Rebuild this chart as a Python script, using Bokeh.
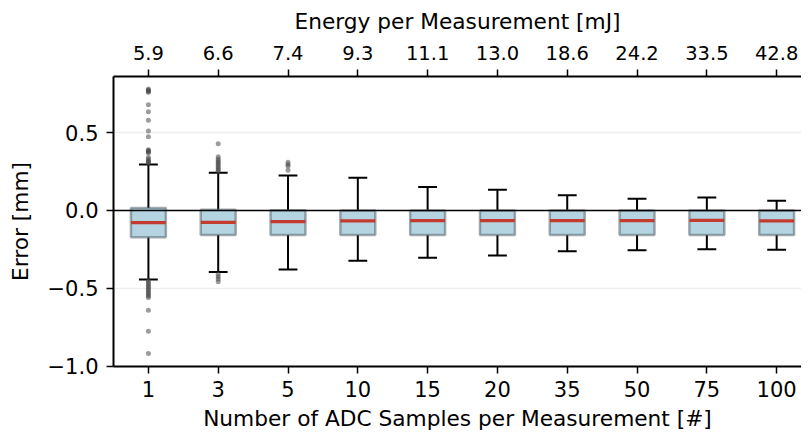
from bokeh.plotting import figure
from bokeh.models import (Range1d, LinearAxis, FixedTicker, Span, ColumnDataSource)
from bokeh.embed import file_html
from bokeh.resources import INLINE

# ---- data ----
samples = ["1", "3", "5", "10", "15", "20", "35", "50", "75", "100"]
energy = ["5.9", "6.6", "7.4", "9.3", "11.1", "13.0", "18.6", "24.2", "33.5", "42.8"]
q1 = [-0.173, -0.158, -0.158, -0.158, -0.158, -0.158, -0.158, -0.158, -0.158, -0.158]
q3 = [0.015, 0.004, 0.002, 0.000, 0.000, 0.000, 0.000, 0.000, 0.000, 0.000]
median = [-0.078, -0.076, -0.072, -0.067, -0.065, -0.065, -0.065, -0.065, -0.064, -0.067]
whisker_hi = [0.296, 0.243, 0.224, 0.211, 0.150, 0.133, 0.097, 0.076, 0.084, 0.063]
whisker_lo = [-0.443, -0.396, -0.380, -0.323, -0.304, -0.289, -0.263, -0.255, -0.249, -0.253]

outliers_1 = [0.305, 0.31, 0.315, 0.32, 0.33, 0.34, 0.37, 0.375, 0.38, 0.385, 0.39,
              0.473, 0.51, 0.58, 0.635, 0.68, 0.76, 0.765, 0.77, 0.775, 0.78,
              -0.45, -0.46, -0.47, -0.48, -0.49, -0.50, -0.51, -0.52, -0.53, -0.54,
              -0.55, -0.56, -0.641, -0.776, -0.92]
outliers_3 = [0.25, 0.26, 0.27, 0.28, 0.29, 0.30, 0.31, 0.32, 0.33, 0.345, 0.428,
              -0.41, -0.426, -0.44, -0.458]
outliers_5 = [0.258, 0.285, 0.296, 0.31]

FONT = "DejaVu Sans"

pos = list(range(1, len(samples) + 1))

p = figure(width=801, height=433, output_backend="svg", toolbar_location=None,
           x_range=Range1d(0.5, 10.356), y_range=Range1d(-1.003, 0.861),
           min_border_left=113, min_border_right=0, min_border_top=76,
           min_border_bottom=63, x_axis_location="below")
p.outline_line_color = None
p.background_fill_color = "white"
p.border_fill_color = "white"

# grid
p.xgrid.visible = False
p.ygrid.grid_line_color = "#efefef"
p.ygrid.grid_line_width = 1.5

# boxes
src = ColumnDataSource(dict(x=pos, q1=q1, q3=q3, med=median, hi=whisker_hi, lo=whisker_lo,
                            x0=[v - 0.25 for v in pos], x1=[v + 0.25 for v in pos],
                            c0=[v - 0.135 for v in pos], c1=[v + 0.135 for v in pos]))

p.segment(x0="x", y0="q3", x1="x", y1="hi", source=src, line_color="black", line_width=2)
p.segment(x0="x", y0="q1", x1="x", y1="lo", source=src, line_color="black", line_width=2)
p.segment(x0="c0", y0="hi", x1="c1", y1="hi", source=src, line_color="black", line_width=2)
p.segment(x0="c0", y0="lo", x1="c1", y1="lo", source=src, line_color="black", line_width=2)

p.vbar(x="x", width=0.5, top="q3", bottom="q1", source=src,
       fill_color="#b5d4e1", line_color="#56656d", line_alpha=0.55, line_width=2.5)
p.segment(x0="x0", y0="med", x1="x1", y1="med", source=src,
          line_color="#c33b2e", line_width=3.2)

# outliers
ox = [1] * len(outliers_1) + [2] * len(outliers_3) + [3] * len(outliers_5)
oy = outliers_1 + outliers_3 + outliers_5
p.scatter(ox, oy, size=5, fill_color="#4a4a4a", fill_alpha=0.55, line_color=None)

# zero line
p.add_layout(Span(location=0, dimension="width", line_color="black", line_width=1.5))

# axes styling
def style_axis(ax, size="21px"):
    ax.axis_line_width = 2
    ax.axis_line_color = "black"
    ax.major_tick_line_width = 1.5
    ax.major_tick_line_color = "black"
    ax.major_tick_out = 7
    ax.major_tick_in = 0
    ax.minor_tick_line_color = None
    ax.major_label_text_font = FONT
    ax.major_label_text_font_size = size
    ax.major_label_text_color = "black"
    ax.axis_label_text_font = FONT
    ax.axis_label_text_font_size = "21.7px"
    ax.axis_label_text_font_style = "normal"
    ax.axis_label_text_color = "black"

xax = p.xaxis[0]
xax.ticker = FixedTicker(ticks=pos)
xax.major_label_overrides = {v: s for v, s in zip(pos, samples)}
xax.axis_label = "Number of ADC Samples per Measurement [#]"
style_axis(xax)
xax.major_label_standoff = 7
xax.axis_label_standoff = 6

yax = p.yaxis[0]
yax.ticker = FixedTicker(ticks=[-1.0, -0.5, 0.0, 0.5])
yax.major_label_overrides = {-1.0: "\u22121.0", -0.5: "\u22120.5", 0.0: "0.0", 0.5: "0.5"}
yax.axis_label = "Error [mm]"
style_axis(yax)
yax.major_label_standoff = 8
yax.axis_label_standoff = 12

top = LinearAxis(ticker=FixedTicker(ticks=pos),
                 major_label_overrides={v: s for v, s in zip(pos, energy)},
                 axis_label="Energy per Measurement [mJ]")
style_axis(top, "19.5px")
top.major_label_standoff = 10
top.axis_label_standoff = 9
p.add_layout(top, "above")

open("out.html", "w").write(file_html(p, INLINE))
